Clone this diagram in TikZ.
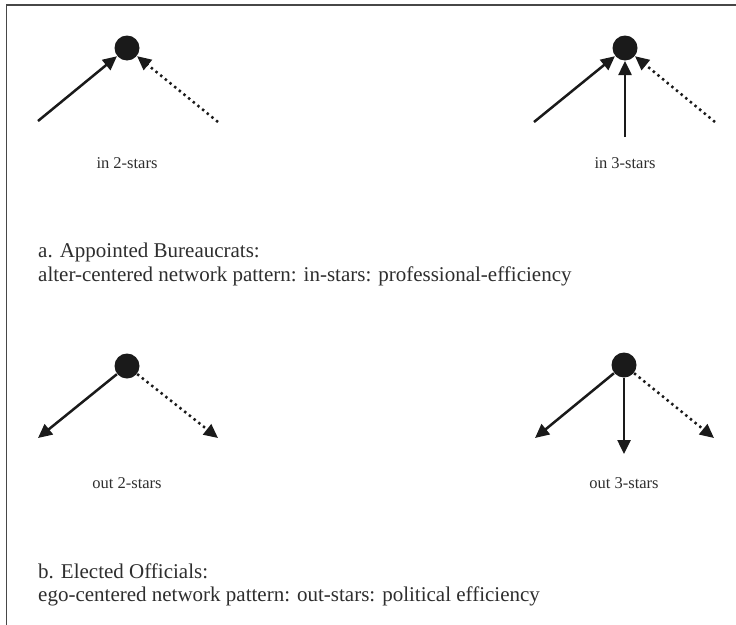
\documentclass[tikz,border=0pt]{standalone}
\usepackage{fontspec}
\setmainfont{Liberation Serif}
\usetikzlibrary{arrows.meta}
\definecolor{ink}{HTML}{1A1A1A}
\definecolor{txt}{HTML}{2E2E2E}
\definecolor{frame}{HTML}{474747}
\begin{document}
\begin{tikzpicture}[x=1pt,y=-1pt,
  hub/.style={circle,fill=ink,draw=none,minimum size=25pt,inner sep=0pt,outer sep=0.5pt},
  tie/.style={draw=ink,line width=2.5pt,-{Triangle[length=14pt,width=13pt]}},
  weaktie/.style={tie,dash pattern=on 2.4pt off 3.6pt},
  caption/.style={font=\fontsize{16.5}{19}\selectfont,text=txt,anchor=base},
  body/.style={font=\fontsize{21}{24}\selectfont,text=txt,anchor=base west,inner sep=0pt}]
\useasboundingbox (0,0) rectangle (736,624);
\fill[white] (0,0) rectangle (736,624);
% frame: only its top and left edges fall inside the page
\draw[frame,line width=1.7pt] (6.5,640) -- (6.5,5) -- (750,5);

% in 2-stars
\node[hub] (h1) at (127,48) {};
\coordinate (a1) at (38,121);
\coordinate (b1) at (218,122);
\draw[tie] (a1) -- (h1);
\draw[weaktie] (b1) -- (h1);
\node[caption] (c1) at (127,168) {in 2-stars};

% in 3-stars
\node[hub] (h2) at (625,48) {};
\coordinate (a2) at (534,122);
\coordinate (m2) at (625,137);
\coordinate (b2) at (715,122);
\draw[tie] (a2) -- (h2);
\draw[tie] (m2) -- (h2);
\draw[weaktie] (b2) -- (h2);
\node[caption] (c2) at (625,168) {in 3-stars};

% section a
\node[body] (ta) at (38,257) {a. Appointed Bureaucrats:};
\node[body] (tb) at (38,281) {alter-centered network pattern: in-stars: professional-efficiency};

% out 2-stars
\node[hub] (h3) at (127,366) {};
\coordinate (a3) at (38,438);
\coordinate (b3) at (218,438);
\draw[tie] (h3) -- (a3);
\draw[weaktie] (h3) -- (b3);
\node[caption] (c3) at (127,488) {out 2-stars};

% out 3-stars
\node[hub] (h4) at (624,365) {};
\coordinate (a4) at (535,438);
\coordinate (m4) at (624,454);
\coordinate (b4) at (714,438);
\draw[tie] (h4) -- (a4);
\draw[tie] (h4) -- (m4);
\draw[weaktie] (h4) -- (b4);
\node[caption] (c4) at (624,488) {out 3-stars};

% section b
\node[body] (tc) at (38,578) {b. Elected Officials:};
\node[body] (td) at (38,601) {ego-centered network pattern: out-stars: political efficiency};
\end{tikzpicture}
\end{document}
